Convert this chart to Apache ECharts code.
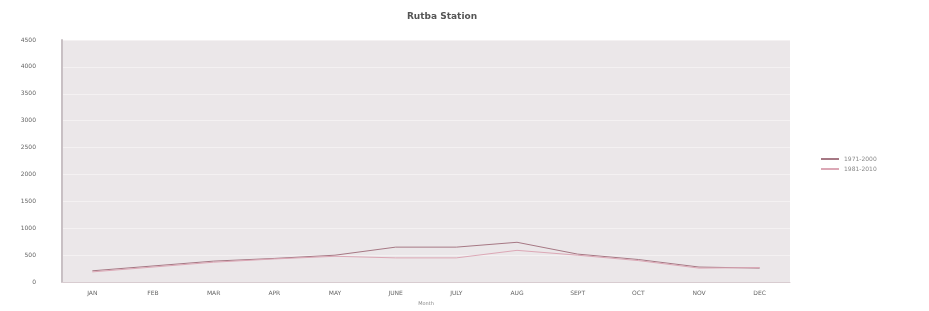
<!DOCTYPE html>
<html>
<head>
<meta charset="UTF-8">
<title>Rutba Station</title>
<script src="https://cdn.jsdelivr.net/npm/echarts@6/dist/echarts.min.js"></script>
<style>
  html, body { margin: 0; padding: 0; background: #fff; }
  #myChart { width: 929px; height: 311px; }
</style>
</head>
<body>
<div id="myChart"></div>
<script>
var months = ['JAN', 'FEB', 'MAR', 'APR', 'MAY', 'JUNE', 'JULY', 'AUG', 'SEPT', 'OCT', 'NOV', 'DEC'];
var yTicks = [0, 500, 1000, 1500, 2000, 2500, 3000, 3500, 4000, 4500];
var seriesNames = ['1971-2000', '1981-2010'];
var valuesA = [210, 300, 390, 440, 500, 650, 650, 740, 520, 420, 280, 260];
var valuesB = [190, 280, 370, 430, 480, 450, 450, 590, 500, 400, 260, 270];

var myChart = echarts.init(document.getElementById('myChart'));

function initOptions() {
  return {
    animation: false,
    backgroundColor: '#fff',
    title: {
      text: 'Rutba Station',
      left: 437,
      top: 7,
      textAlign: 'center',
      textStyle: { fontSize: 9, fontWeight: 'bold', color: '#555', fontFamily: 'DejaVu Sans' }
    },
    legend: {
      orient: 'vertical',
      left: 816,
      top: 151,
      itemWidth: 18,
      itemHeight: 2,
      itemGap: 4,
      icon: 'rect',
      textStyle: { fontSize: 6, color: '#888', fontFamily: 'DejaVu Sans' },
      data: seriesNames
    },
    grid: {
      left: 62,
      right: 139,
      top: 40,
      bottom: 28,
      show: true,
      backgroundColor: '#ebe7e9',
      borderWidth: 0
    },
    xAxis: {
      type: 'category',
      boundaryGap: true,
      data: months,
      name: 'Month',
      nameLocation: 'middle',
      nameGap: 16,
      nameTextStyle: { fontSize: 5, color: '#888', fontFamily: 'DejaVu Sans' },
      axisLine: { lineStyle: { color: '#d8ccd0' } },
      axisTick: { show: false },
      axisLabel: { fontSize: 6, color: '#666', margin: 8, fontFamily: 'DejaVu Sans' }
    },
    yAxis: {
      type: 'value',
      min: yTicks[0],
      max: yTicks[yTicks.length - 1],
      interval: 500,
      axisLine: { show: true, lineStyle: { color: '#c8c0c4', width: 2 } },
      axisTick: { show: false },
      axisLabel: {
        fontSize: 6, color: '#666', margin: 26, fontFamily: 'DejaVu Sans',
        formatter: function (v) { return String(v); }
      },
      splitLine: { lineStyle: { color: '#f4f1f2', width: 1 } }
    },
    series: [{
      name: seriesNames[0],
      type: 'line',
      data: valuesA,
      symbol: 'none',
      lineStyle: { color: '#a67884', width: 1 },
      itemStyle: { color: '#a67884' }
    }, {
      name: seriesNames[1],
      type: 'line',
      data: valuesB,
      symbol: 'none',
      lineStyle: { color: '#dca8b6', width: 1 },
      itemStyle: { color: '#dca8b6' }
    }]
  };
}

myChart.setOption(initOptions());
</script>
</body>
</html>
